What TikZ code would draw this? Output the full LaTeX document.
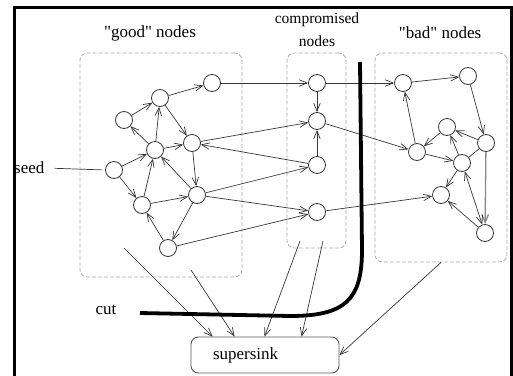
\documentclass[tikz,border=0pt]{standalone}
\usepackage{fontspec}
\setmainfont{Liberation Serif}
\usetikzlibrary{
  arrows.meta,
  positioning,
  calc
}
\definecolor{EdgeGray}{RGB}{55,55,55}
\definecolor{RegionGray}{RGB}{170,170,170}
\definecolor{SinkGray}{RGB}{85,85,85}
\tikzset{
  peer/.style={circle,draw=EdgeGray,fill=white,line width=0.8pt,minimum size=17pt,inner sep=0pt},
  region/.style={draw=RegionGray,dash pattern=on 4pt off 2pt,line width=0.8pt,rounded corners=2.6mm,inner sep=0pt},
  sinkbox/.style={draw=SinkGray,line width=0.9pt,rounded corners=2.6mm,minimum height=36pt,inner xsep=22pt,text width=104pt,align=left,font=\fontsize{17}{19}\selectfont},
  grouplabel/.style={font=\fontsize{17}{19}\selectfont,inner sep=1pt},
  link/.style={-{Straight Barb[length=8pt,width=6.5pt]},draw=EdgeGray,line width=0.7pt},
  bothlink/.style={{Straight Barb[length=8pt,width=6.5pt]}-{Straight Barb[length=8pt,width=6.5pt]},draw=EdgeGray,line width=0.7pt},
  plainlink/.style={draw=EdgeGray,line width=0.7pt},
  greylink/.style={-{Straight Barb[length=8pt,width=6.5pt]},draw=RegionGray!80!black,line width=1.3pt},
  cutline/.style={line width=3.8pt,black}
}
\begin{document}
\begin{tikzpicture}[x=1pt,y=-1pt]
\useasboundingbox (0,0) rectangle (513,375);
\clip (0,0) rectangle (513,375);
\draw[line width=3pt] (14,390) -- (14,7) -- (511,7) -- (511,390);

% groups
\node[region, minimum width=162pt, minimum height=224pt] (good) at (161,165) {};
\node[region, minimum width=59pt, minimum height=195pt] (comp) at (316.5,150.5) {};
\node[region, minimum width=132pt, minimum height=209pt] (bad) at (441,157.5) {};
\node[grouplabel] (goodlabel) at (150,33) {\textquotedbl good\textquotedbl{} nodes};
\node[grouplabel, font=\fontsize{15.5}{23}\selectfont, align=center] (complabel) at (317,30) {compromised\\nodes};
\node[grouplabel] (badlabel) at (440,33) {\textquotedbl bad\textquotedbl{} nodes};

% good nodes
\node[peer] (g1) at (212,83) {};
\node[peer] (g2) at (160,98) {};
\node[peer] (g3) at (124,120) {};
\node[peer] (g4) at (192,143) {};
\node[peer] (g5) at (155,150) {};
\node[peer] (g6) at (114,170) {};
\node[peer] (g7) at (142,205) {};
\node[peer] (g8) at (197,195) {};
\node[peer] (g9) at (168,248) {};

% compromised nodes
\node[peer] (c1) at (317,83) {};
\node[peer] (c2) at (317,121) {};
\node[peer] (c3) at (317,165) {};
\node[peer] (c4) at (317,212) {};

% bad nodes
\node[peer] (b1) at (403,83) {};
\node[peer] (b2) at (468,76) {};
\node[peer] (b3) at (447,127) {};
\node[peer] (b4) at (486,143) {};
\node[peer] (b5) at (417,152) {};
\node[peer] (b6) at (462,163) {};
\node[peer] (b7) at (441,195) {};
\node[peer] (b8) at (485,233) {};

\node[grouplabel, anchor=west] (seed) at (13,168) {seed};
\node[grouplabel] (cutlabel) at (106,310) {cut};
\node[sinkbox] (sink) at (265,355) {supersink};

\coordinate (s1) at (124,248);
\coordinate (s2) at (191,270);
\coordinate (s3) at (300,241);
\coordinate (s4) at (323,241);

\draw[plainlink, shorten <=9pt, shorten >=3pt] (seed.east) -- (g6.west);

\draw[link] (g6) -- (g5);
\draw[link] (g6) -- (g7);
\draw[link] (g5) -- (g3);
\draw[link] (g3) -- (g2);
\draw[link] (g5) -- (g2);
\draw[link] (g2) -- (g1);
\draw[link] (g2) -- (g4);
\draw[link] (g5) -- (g4);
\draw[link] (g4) -- (g8);
\draw[link] (g8) -- (g5);
\draw[link] (g7) -- (g5);
\draw[link] (g7) -- (g8);
\draw[link] (g8) -- (g9);
\draw[link] (g9) -- (g7);

\draw[link] (g1) -- (c1);
\draw[link] (c1) -- (c2);
\draw[link] (c3) -- (c2);
\draw[link] (g4) -- (c2);
\draw[link] (c3) -- (g4);
\draw[link] (g8) -- (c3);
\draw[link] (g8) -- (c4);
\draw[link] (g9) -- (c4);

\draw[link] (c1) -- (b1);
\draw[link] (c2) -- (b5);
\draw[link] (c4) -- (b7);

\draw[link] (b1) -- (b2);
\draw[link] (b2) -- (b4);
\draw[link] (b5) -- (b1);
\draw[link] (b3) -- (b5);
\draw[link] (b4) -- (b3);
\draw[link] (b5) -- (b6);
\draw[link] (b6) -- (b3);
\draw[plainlink] (b4) -- (b6);
\draw[greylink] (b4) -- (b8);
\draw[bothlink] (b6) -- (b8);
\draw[link] (b6) -- (b7);
\draw[link] (b8) -- (b7);

% flows into the supersink
\draw[link] (s1) -- ([xshift=22pt]sink.north west);
\draw[link] (s2) -- ([xshift=44pt]sink.north west);
\draw[link] (s3) -- ([xshift=74pt]sink.north west);
\draw[link] (s4) -- ([xshift=111pt]sink.north west);
\draw[link] (bad.south) -- (sink.east);

% the cut
\draw[cutline] (140,313) -- (290,316) .. controls (345,316) and (362,300) .. (362,250) -- (360,62);
\end{tikzpicture}
\end{document}
